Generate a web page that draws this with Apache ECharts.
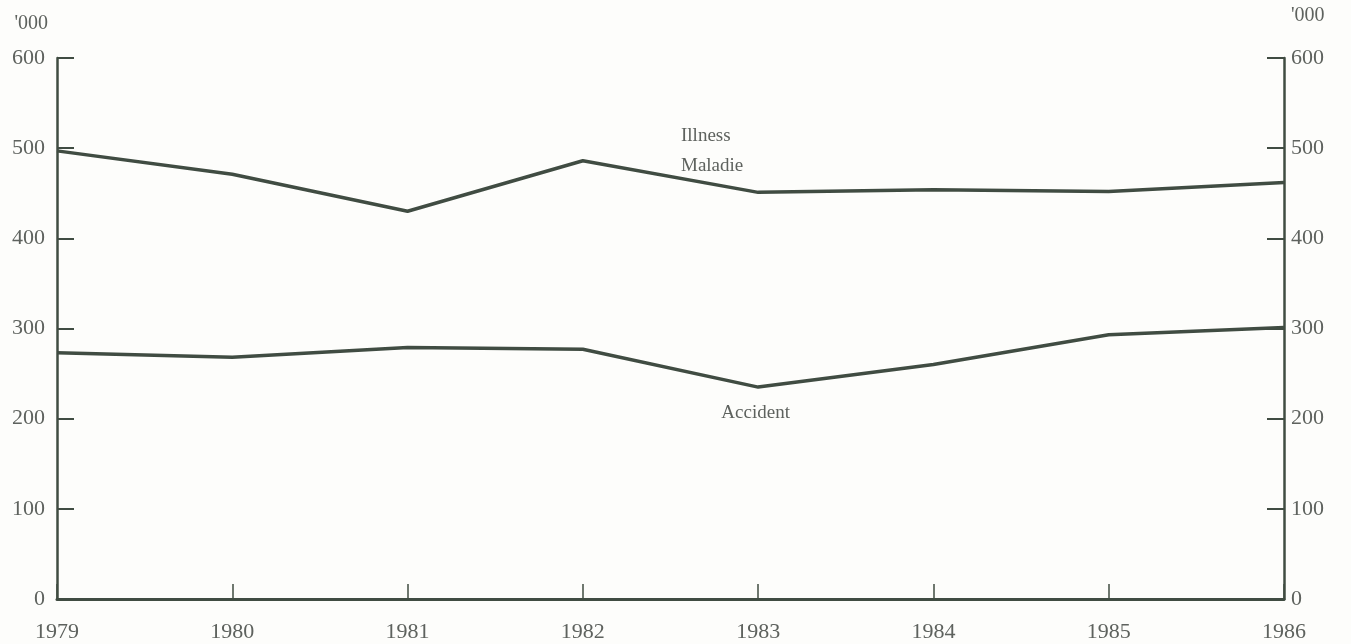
<!DOCTYPE html>
<html>
<head>
<meta charset="utf-8">
<script src="https://cdn.jsdelivr.net/npm/echarts@6/dist/echarts.min.js"></script>
<style>
html,body{margin:0;padding:0;background:#fdfdfb;}
#c{width:1351px;height:644px;}
</style>
</head>
<body>
<div id="c"></div>
<script>
const years = [1979, 1980, 1981, 1982, 1983, 1984, 1985, 1986];
const illness = [497, 471, 430, 486, 451, 454, 452, 462];
const accident = [273, 268, 279, 277, 235, 260, 293, 301];
const unitLabel = "'000";
const illnessLabel = ["Illness", "Maladie"];
const illnessLabelAt = [1982.56, 497];
const accidentLabel = "Accident";
const accidentLabelAt = [1982.79, 206];

const ink = '#404c42';
const txt = '#5e625e';
const font = 'Liberation Serif';

const chart = echarts.init(document.getElementById('c'));
const yAxisBase = {
  type: 'value', min: 0, max: 600, interval: 100,
  splitLine: { show: false },
  axisLine: { show: true, lineStyle: { color: ink, width: 2.5 } },
  axisTick: { show: true, inside: true, length: 17, lineStyle: { color: ink, width: 2 } },
  nameLocation: 'end'
};
chart.setOption({
  animation: false,
  backgroundColor: '#fdfdfb',
  grid: { left: 57, right: 67, top: 58, bottom: 45, containLabel: false },
  xAxis: {
    type: 'value', min: 1979, max: 1986, interval: 1,
    splitLine: { show: false },
    axisLine: { show: true, lineStyle: { color: ink, width: 3 } },
    axisTick: { show: true, inside: true, length: 15, lineStyle: { color: ink, width: 1.5 } },
    axisLabel: { color: txt, fontFamily: font, fontSize: 22, margin: 22, formatter: v => String(v) }
  },
  yAxis: [
    Object.assign({}, yAxisBase, {
      position: 'left',
      name: unitLabel,
      nameGap: 34,
      nameTextStyle: { color: txt, fontFamily: font, fontSize: 20, align: 'right', verticalAlign: 'middle', padding: [0, 9, 0, 0] },
      axisLabel: { color: txt, fontFamily: font, fontSize: 22, margin: 12 }
    }),
    Object.assign({}, yAxisBase, {
      position: 'right',
      name: unitLabel,
      nameGap: 42,
      nameTextStyle: { color: txt, fontFamily: font, fontSize: 20, align: 'left', verticalAlign: 'middle', padding: [0, 0, 0, 7] },
      axisLabel: { color: txt, fontFamily: font, fontSize: 22, margin: 7 }
    })
  ],
  series: [
    {
      name: 'Illness', type: 'line', symbol: 'none',
      data: years.map((y, i) => [y, illness[i]]),
      lineStyle: { color: ink, width: 3.5 },
      markPoint: {
        symbol: 'circle', symbolSize: 0, silent: true,
        data: [{ coord: illnessLabelAt }],
        label: {
          show: true, position: 'inside', align: 'left', verticalAlign: 'middle',
          formatter: illnessLabel.join('\n'), lineHeight: 30,
          color: txt, fontFamily: font, fontSize: 19
        }
      }
    },
    {
      name: 'Accident', type: 'line', symbol: 'none',
      data: years.map((y, i) => [y, accident[i]]),
      lineStyle: { color: ink, width: 3.5 },
      markPoint: {
        symbol: 'circle', symbolSize: 0, silent: true,
        data: [{ coord: accidentLabelAt }],
        label: {
          show: true, position: 'inside', align: 'left', verticalAlign: 'middle',
          formatter: accidentLabel,
          color: txt, fontFamily: font, fontSize: 19
        }
      }
    }
  ]
});
</script>
</body>
</html>
